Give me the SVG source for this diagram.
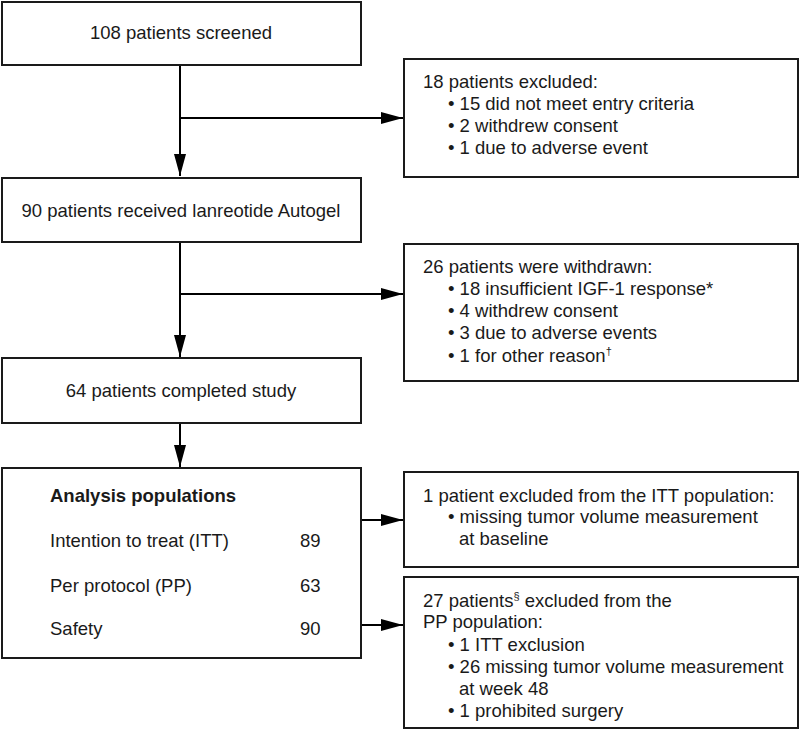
<svg xmlns="http://www.w3.org/2000/svg" width="800" height="731" viewBox="0 0 800 731">
<style>
.box{fill:#fff;stroke:#1a1a1a;stroke-width:2}
.t{font-family:"Liberation Sans",Arial,sans-serif;font-size:18.5px;fill:#1a1a1a}
.c{text-anchor:middle}
.b{font-weight:bold}
.ln{stroke:#000;stroke-width:2;fill:none}
.sup{font-size:11px}
</style>
<defs>
<marker id="ah" markerUnits="userSpaceOnUse" viewBox="0 0 22 12" refX="22" refY="6" markerWidth="22" markerHeight="12" orient="auto">
<path d="M0,0 L22,6 L0,12 z" fill="#000"/>
</marker>
</defs>
<rect width="800" height="731" fill="#fff"/>
<g id="connectors">
<line class="ln" x1="180" y1="65" x2="180" y2="176" marker-end="url(#ah)"/>
<line class="ln" x1="180" y1="118" x2="403" y2="118" marker-end="url(#ah)"/>
<line class="ln" x1="180" y1="242" x2="180" y2="357" marker-end="url(#ah)"/>
<line class="ln" x1="180" y1="294" x2="403" y2="294" marker-end="url(#ah)"/>
<line class="ln" x1="180" y1="423" x2="180" y2="467" marker-end="url(#ah)"/>
<line class="ln" x1="361" y1="520" x2="403" y2="520" marker-end="url(#ah)"/>
<line class="ln" x1="361" y1="625" x2="403" y2="625" marker-end="url(#ah)"/>
</g>
<g id="screened">
<rect class="box" x="2" y="2" width="359" height="63"/>
<text class="t c" x="181" y="39">108 patients screened</text>
</g>
<g id="received">
<rect class="box" x="2" y="178" width="359" height="64"/>
<text class="t c" x="181" y="217">90 patients received lanreotide Autogel</text>
</g>
<g id="completed">
<rect class="box" x="2" y="358" width="359" height="65"/>
<text class="t c" x="181" y="397">64 patients completed study</text>
</g>
<g id="analysis">
<rect class="box" x="2" y="468" width="359" height="190"/>
<text class="t b" x="50" y="502">Analysis populations</text>
<text class="t" x="50" y="547">Intention to treat (ITT)</text>
<text class="t" x="300" y="547">89</text>
<text class="t" x="50" y="592">Per protocol (PP)</text>
<text class="t" x="300" y="592">63</text>
<text class="t" x="50" y="635">Safety</text>
<text class="t" x="300" y="635">90</text>
</g>
<g id="excluded">
<rect class="box" x="404" y="59" width="394" height="118"/>
<text class="t" x="423" y="88">18 patients excluded:</text>
<text class="t" x="448" y="110">• 15 did not meet entry criteria</text>
<text class="t" x="448" y="132">• 2 withdrew consent</text>
<text class="t" x="448" y="154">• 1 due to adverse event</text>
</g>
<g id="withdrawn">
<rect class="box" x="404" y="244" width="394" height="137"/>
<text class="t" x="423" y="273">26 patients were withdrawn:</text>
<text class="t" x="448" y="295">• 18 insufficient IGF-1 response*</text>
<text class="t" x="448" y="317">• 4 withdrew consent</text>
<text class="t" x="448" y="339">• 3 due to adverse events</text>
<text class="t" x="448" y="362">• 1 for other reason<tspan class="sup" dy="-7">†</tspan></text>
</g>
<g id="itt-excl">
<rect class="box" x="404" y="472" width="394" height="95"/>
<text class="t" x="423" y="502">1 patient excluded from the ITT population:</text>
<text class="t" x="448" y="523">• missing tumor volume measurement</text>
<text class="t" x="459" y="545">at baseline</text>
</g>
<g id="pp-excl">
<rect class="box" x="404" y="577" width="394" height="151"/>
<text class="t" x="423" y="607">27 patients<tspan class="sup" dy="-7">§</tspan><tspan dy="7"> excluded from the</tspan></text>
<text class="t" x="423" y="628">PP population:</text>
<text class="t" x="448" y="651">• 1 ITT exclusion</text>
<text class="t" x="448" y="673">• 26 missing tumor volume measurement</text>
<text class="t" x="459" y="695">at week 48</text>
<text class="t" x="448" y="717">• 1 prohibited surgery</text>
</g>
</svg>
